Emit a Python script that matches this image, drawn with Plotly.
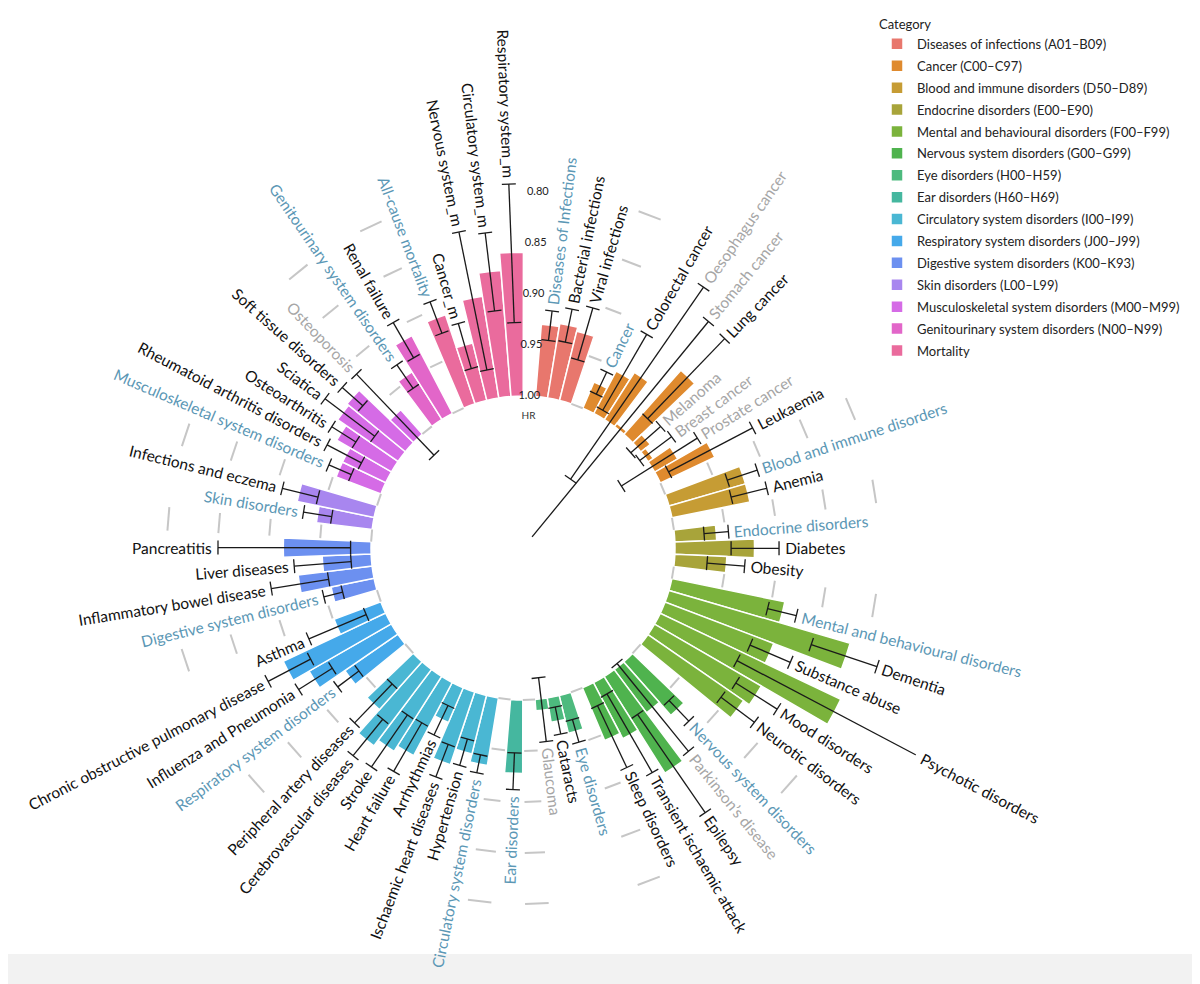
import math
import plotly.graph_objects as go

W, H = 1200, 984

# ---- data (hazard ratios) ----
group_names = [
    "Diseases of infections (A01–B09)", "Cancer (C00–C97)",
    "Blood and immune disorders (D50–D89)", "Endocrine disorders (E00–E90)",
    "Mental and behavioural disorders (F00–F99)", "Nervous system disorders (G00–G99)",
    "Eye disorders (H00–H59)", "Ear disorders (H60–H69)",
    "Circulatory system disorders (I00–I99)", "Respiratory system disorders (J00–J99)",
    "Digestive system disorders (K00–K93)", "Skin disorders (L00–L99)",
    "Musculoskeletal system disorders (M00–M99)", "Genitourinary system disorders (N00–N99)",
    "Mortality",
]
group_colors = [
    "#E8776D", "#DF8A2E", "#C69C34", "#A8A43A", "#7BB33C", "#4FB34E", "#4DBA7E",
    "#45B79F", "#4AB7D3", "#45A9EA", "#6C90F0", "#A886EF", "#D56BE6", "#E266C9", "#EA6B9D",
]
group_sizes = [3, 9, 2, 3, 6, 5, 3, 1, 8, 4, 4, 2, 6, 2, 5]

labels = [
    "Diseases of Infections", "Bacterial infections", "Viral infections",
    "Cancer", "Colorectal cancer", "Oesophagus cancer", "Stomach cancer", "Lung cancer",
    "Melanoma", "Breast cancer", "Prostate cancer", "Leukaemia",
    "Blood and immune disorders", "Anemia",
    "Endocrine disorders", "Diabetes", "Obesity",
    "Mental and behavioural disorders", "Dementia", "Substance abuse", "Psychotic disorders",
    "Mood disorders", "Neurotic disorders",
    "Nervous system disorders", "Parkinson’s disease", "Epilepsy",
    "Transient ischaemic attack", "Sleep disorders",
    "Eye disorders", "Cataracts", "Glaucoma",
    "Ear disorders",
    "Circulatory system disorders", "Hypertension", "Ischaemic heart diseases", "Arrhythmias",
    "Heart failure", "Stroke", "Cerebrovascular diseases", "Peripheral artery diseases",
    "Respiratory system disorders", "Influenza and Pneumonia",
    "Chronic obstructive pulmonary disease", "Asthma",
    "Digestive system disorders", "Inflammatory bowel disease", "Liver diseases", "Pancreatitis",
    "Skin disorders", "Infections and eczema",
    "Musculoskeletal system disorders", "Rheumatoid arthritis disorders", "Osteoarthritis",
    "Sciatica", "Soft tissue disorders", "Osteoporosis",
    "Genitourinary system disorders", "Renal failure",
    "All-cause mortality", "Cancer_m", "Nervous system_m", "Circulatory system_m",
    "Respiratory system_m",
]
hr = [
    0.929, 0.926, 0.930,
    0.972, 0.953, 0.945, 0.996, 0.916, 0.988, 0.994, 0.974, 0.941,
    0.922, 0.922,
    0.959, 0.922, 0.949,
    0.887, 0.815, 0.886, 0.804, 0.879, 0.886,
    0.930, 0.947, 0.888, 0.938, 0.944,
    0.962, 0.976, 0.989,
    0.928,
    0.933, 0.941, 0.925, 0.963, 0.919, 0.913, 0.906, 0.937,
    0.937, 0.907, 0.889, 0.951,
    0.957, 0.927, 0.952, 0.914,
    0.945, 0.923,
    0.953, 0.953, 0.938, 0.928, 0.926, 0.968,
    0.945, 0.914,
    0.908, 0.942, 0.899, 0.876, 0.859,
]
ci_low = [
    0.915, 0.910, 0.904,
    0.958, 0.907, 0.838, 0.862, 0.864, 0.969, 0.967, 0.947, 0.895,
    0.907, 0.903,
    0.947, 0.898, 0.931,
    0.873, 0.783, 0.864, 0.713, 0.854, 0.865,
    0.914, 0.892, 0.834, 0.895, 0.911,
    0.951, 0.963, 0.958,
    0.912,
    0.924, 0.927, 0.909, 0.946, 0.896, 0.888, 0.886, 0.911,
    0.922, 0.889, 0.867, 0.921,
    0.948, 0.899, 0.924, 0.850,
    0.931, 0.906,
    0.942, 0.932, 0.927, 0.906, 0.912, 0.913,
    0.931, 0.894,
    0.891, 0.920, 0.833, 0.838, 0.792,
]
ci_high = [
    0.944, 0.943, 0.957,
    0.982, 0.993, 1.067, 1.135, 0.973, 1.008, 1.006, 1.035, 0.988,
    0.938, 0.939,
    0.971, 0.945, 0.968,
    0.902, 0.851, 0.907, 0.912, 0.902, 0.906,
    0.942, 1.003, 0.951, 0.984, 0.978,
    0.974, 0.990, 1.021,
    0.948,
    0.942, 0.954, 0.943, 0.978, 0.951, 0.950, 0.932, 0.964,
    0.948, 0.928, 0.914, 0.982,
    0.967, 0.956, 0.980, 0.980,
    0.959, 0.942,
    0.966, 0.970, 0.955, 0.967, 0.939, 1.023,
    0.959, 0.934,
    0.924, 0.966, 0.971, 0.915, 0.928,
]
nonsig = ["Oesophagus cancer", "Stomach cancer", "Melanoma", "Breast cancer",
          "Prostate cancer", "Parkinson’s disease", "Glaucoma", "Osteoporosis"]
hr_ticks = [1.00, 0.95, 0.90, 0.85, 0.80]

# ---- geometry (figure px; the page adds an 8px body margin) ----
CX, CY = 515, 540          # circle centre
RPX = 444                  # polar radius
K = 1020                   # px per HR unit
R0 = 1 + 152 / K           # HR value at the centre
R_OUT = R0 - RPX / K
N_SLOTS = sum(group_sizes) + len(group_sizes)
STEP = 360 / N_SLOTS
THETA0 = 7.0


def slot_theta(s):
    return THETA0 + s * STEP


def to_paper(theta, r):
    d = (R0 - r) * K
    a = math.radians(theta)
    return (CX + d * math.sin(a)) / W, 1 - (CY - d * math.cos(a)) / H


# assign slots: each group followed by one empty slot
item_theta, gap_slots = [], []
s = 0
for g, n in enumerate(group_sizes):
    for _ in range(n):
        item_theta.append(slot_theta(s))
        s += 1
    gap_slots.append(s)
    s += 1
axis_slot = gap_slots[-1]

fig = go.Figure()

# bars, one trace per category
start = 0
for g, n in enumerate(group_sizes):
    idx = list(range(start, start + n))
    start += n
    fig.add_trace(go.Barpolar(
        theta=[item_theta[i] for i in idx],
        r=[1 - hr[i] for i in idx],
        base=[hr[i] for i in idx],
        width=STEP,
        marker=dict(color=group_colors[g], line=dict(color="white", width=1.5)),
        name=group_names[g],
        legendgroup=group_names[g],
        hoverinfo="skip",
    ))

# grey grid dashes in the gaps
gt, gr = [], []
for gs in gap_slots[:-1]:
    tc = slot_theta(gs)
    for lv in hr_ticks:
        half = 2.3 if lv == 1.00 else 1.9
        gt += [tc - half, tc + half, None]
        gr += [lv, lv, None]
fig.add_trace(go.Scatterpolar(
    theta=gt, r=gr, mode="lines", line=dict(color="#C6C6C6", width=2),
    showlegend=False, hoverinfo="skip",
))

# confidence intervals
et, er = [], []
for i in range(len(hr)):
    et += [item_theta[i], item_theta[i], None]
    er += [ci_low[i], ci_high[i], None]
fig.add_trace(go.Scatterpolar(
    theta=et, r=er, mode="lines", line=dict(color="#1a1a1a", width=1.3),
    showlegend=False, hoverinfo="skip",
))
ct, cr = [], []
for i in range(len(hr)):
    ct.append(item_theta[i])
    cr.append(ci_low[i])
    if ci_high[i] < 1.1:
        ct.append(item_theta[i])
        cr.append(ci_high[i])
fig.add_trace(go.Scatterpolar(
    theta=ct, r=cr, mode="markers", cliponaxis=False,
    marker=dict(symbol="line-ew", size=10, angle=ct,
                line=dict(color="#1a1a1a", width=1.3)),
    showlegend=False, hoverinfo="skip",
))

# HR axis labels in the top gap
fig.add_trace(go.Scatterpolar(
    theta=[slot_theta(axis_slot)] * len(hr_ticks), r=hr_ticks,
    mode="text", text=[f"{v:.2f}" for v in hr_ticks],
    textfont=dict(family="Lato", size=11, color="#222222"),
    showlegend=False, hoverinfo="skip",
))
fig.add_trace(go.Scatterpolar(
    theta=[slot_theta(axis_slot)], r=[1.02], mode="text", text=["HR"],
    textfont=dict(family="Lato", size=10, color="#333333"),
    showlegend=False, hoverinfo="skip",
))

# radial labels beyond each interval
group_first = set()
start = 0
for n in group_sizes:
    group_first.add(start)
    start += n

annotations = []
hide = '<span style="color:rgba(0,0,0,0)">{}</span>'
sp = "\u00a0\u00a0\u00a0"
for i, lab in enumerate(labels):
    t = item_theta[i] % 360
    if i in group_first:
        col = "#5B97B5"
    elif lab in nonsig:
        col = "#A6A6A6"
    else:
        col = "#111111"
    if t < 180:
        ang = t - 90
        txt = hide.format(lab) + sp + lab
    else:
        ang = t - 270
        txt = lab + sp + hide.format(lab)
    px, py = to_paper(t, ci_low[i])
    annotations.append(dict(
        x=px, y=py, xref="paper", yref="paper", text=txt, showarrow=False,
        textangle=ang, xanchor="center", yanchor="middle",
        font=dict(family="Lato", size=15.5, color=col),
    ))

fig.update_layout(
    width=W, height=H,
    margin=dict(l=0, r=0, t=0, b=0),
    paper_bgcolor="white",
    font=dict(family="Lato", color="#222222"),
    polar=dict(
        domain=dict(x=[(CX - RPX) / W, (CX + RPX) / W],
                    y=[(H - CY - RPX) / H, (H - CY + RPX) / H]),
        bgcolor="rgba(0,0,0,0)",
        radialaxis=dict(range=[R0, R_OUT], visible=False),
        angularaxis=dict(visible=False, direction="clockwise", rotation=90),
        bargap=0,
    ),
    legend=dict(
        x=869 / W, y=1 - 4 / H, xanchor="left", yanchor="top",
        title=dict(text="Category", font=dict(size=13, color="#222222")),
        font=dict(size=13, color="#222222"),
        tracegroupgap=2, bgcolor="rgba(0,0,0,0)",
    ),
    annotations=annotations,
    shapes=[dict(type="rect", xref="paper", yref="paper", x0=0, x1=1, y0=0,
                 y1=38 / H, fillcolor="#F2F2F2", line=dict(width=0), layer="below")],
)

fig.write_html("out.html")
